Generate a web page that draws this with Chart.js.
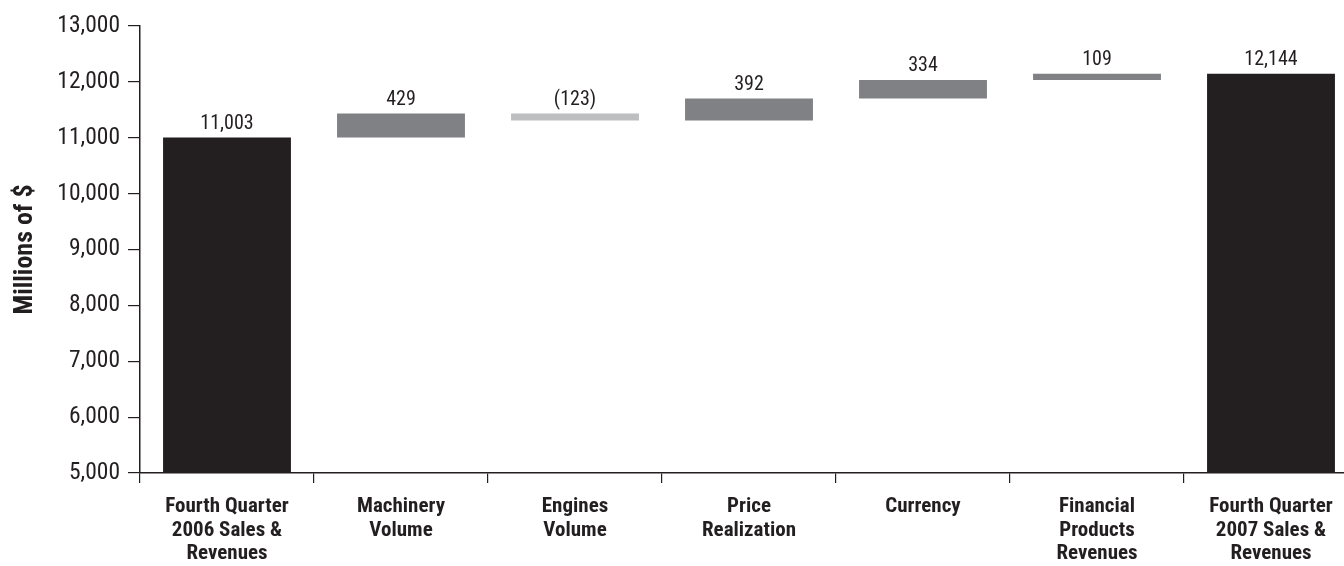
<!DOCTYPE html>
<html>
<head>
<meta charset="utf-8">
<script src="https://cdn.jsdelivr.net/npm/chart.js@4.4.1/dist/chart.umd.min.js"></script>
<style>
  html, body { margin: 0; padding: 0; background: #fff; overflow: hidden; }
  #wrap { position: relative; width: 1360px; height: 566px; }
</style>
</head>
<body>
<div id="wrap"><canvas id="c"></canvas></div>
<script>
// ---- data ----
const categories = [
  ['Fourth Quarter', '2006 Sales &', 'Revenues'],
  ['Machinery', 'Volume'],
  ['Engines', 'Volume'],
  ['Price', 'Realization'],
  ['Currency'],
  ['Financial', 'Products', 'Revenues'],
  ['Fourth Quarter', '2007 Sales &', 'Revenues']
];
const changes = [11003, 429, -123, 392, 334, 109, 12144];
const kinds = ['total', 'up', 'down', 'up', 'up', 'up', 'total'];
const valueLabels = ['11,003', '429', '(123)', '392', '334', '109', '12,144'];
const yMin = 5000, yMax = 13000, yStep = 1000;

// ---- build floating bars ----
const ranges = [];
let running = 0;
changes.forEach((v, i) => {
  if (kinds[i] === 'total') {
    ranges.push([yMin, v]);
    running = v;
  } else {
    ranges.push([running, running + v]);
    running += v;
  }
});
const colorMap = { total: '#231f20', up: '#808184', down: '#bcbec0' };
const colors = kinds.map(k => colorMap[k]);
const FONT = '"Roboto Condensed", "Liberation Sans", sans-serif';

const labelPlugin = {
  id: 'valueLabels',
  afterDatasetsDraw(chart) {
    const ctx = chart.ctx;
    const meta = chart.getDatasetMeta(0);
    ctx.save();
    ctx.font = '20px ' + FONT;
    ctx.fillStyle = '#231f20';
    ctx.textAlign = 'center';
    ctx.textBaseline = 'alphabetic';
    meta.data.forEach((bar, i) => {
      const top = Math.min(bar.y, bar.base);
      ctx.fillText(valueLabels[i], bar.x, top - 9);
    });
    ctx.restore();
  }
};

new Chart(document.getElementById('c'), {
  type: 'bar',
  data: {
    labels: categories,
    datasets: [{
      data: ranges,
      backgroundColor: colors,
      borderWidth: 0,
      borderSkipped: false,
      barPercentage: 0.735,
      categoryPercentage: 1.0
    }]
  },
  options: {
    responsive: true,
    maintainAspectRatio: false,
    animation: false,
    layout: { padding: { top: 26, right: 2, left: 0, bottom: 0 } },
    plugins: {
      legend: { display: false },
      tooltip: { enabled: false }
    },
    scales: {
      x: {
        offset: true,
        grid: {
          display: true,
          drawOnChartArea: false,
          drawTicks: true,
          tickLength: 10,
          offset: true,
          color: '#231f20',
          lineWidth: 1.2
        },
        border: { display: true, color: '#231f20', width: 1.5 },
        ticks: {
          color: '#231f20',
          padding: 12,
          maxRotation: 0,
          autoSkip: false,
          font: { family: FONT, size: 21, weight: 'bold', lineHeight: 1.12 }
        },
        afterFit(scale) { scale.height = 93; }
      },
      y: {
        min: yMin,
        max: yMax,
        grid: {
          display: true,
          drawOnChartArea: false,
          drawTicks: true,
          tickLength: 12,
          color: '#231f20',
          lineWidth: 1.2
        },
        border: { display: true, color: '#231f20', width: 1.5 },
        ticks: {
          stepSize: yStep,
          color: '#231f20',
          padding: 8,
          font: { family: FONT, size: 23.5 },
          callback: v => v.toLocaleString('en-US')
        },
        title: {
          display: true,
          text: 'Millions of $',
          color: '#231f20',
          padding: { top: 10, bottom: 0 },
          font: { family: FONT, size: 26, weight: 'bold' }
        },
        afterFit(scale) { scale.width = 140; }
      }
    }
  },
  plugins: [labelPlugin]
});
</script>
</body>
</html>
